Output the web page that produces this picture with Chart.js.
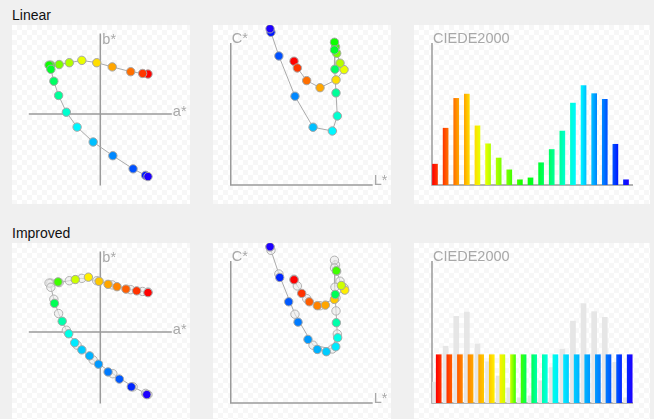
<!DOCTYPE html>
<html>
<head>
<meta charset="utf-8">
<script src="https://cdn.jsdelivr.net/npm/chart.js@4.4.1/dist/chart.umd.min.js"></script>
<style>
  html, body { margin: 0; padding: 0; background: #f0f0f0; width: 654px; height: 419px; overflow: hidden; }
  body { font-family: "Liberation Sans", Arial, sans-serif; }
  .title { position: absolute; left: 12px; font-size: 14px; line-height: 16px; color: #111; }
  .panel { position: absolute; height: 179px; background-color: #fff;
    background-image: conic-gradient(#f7f7f7 25%, #fff 0 50%, #f7f7f7 0 75%, #fff 0);
    background-size: 10px 10px; }
  .panel canvas { display: block; }
</style>
</head>
<body>
<div class="title" style="top:7px">Linear</div>
<div class="panel" style="left:12px;top:25px;width:178px"><canvas id="linAB" width="178" height="179"></canvas></div>
<div class="panel" style="left:213px;top:25px;width:178px"><canvas id="linLC" width="178" height="179"></canvas></div>
<div class="panel" style="left:414px;top:25px;width:236px"><canvas id="linDE" width="236" height="179"></canvas></div>

<div class="title" style="top:225px">Improved</div>
<div class="panel" style="left:12px;top:243px;width:178px"><canvas id="impAB" width="178" height="179"></canvas></div>
<div class="panel" style="left:213px;top:243px;width:178px"><canvas id="impLC" width="178" height="179"></canvas></div>
<div class="panel" style="left:414px;top:243px;width:236px"><canvas id="impDE" width="236" height="179"></canvas></div>

<script>
// Linear ramp: a*, b*, L*, C* per colour stop
const linA = [80, 71, 51, 20, -6, -31, -52, -69, -83, -86, -83, -78, -70, -57, -39, -12, 21, 55, 76, 80];
const linB = [67, 68, 71, 79, 86, 90, 86, 83, 82, 82, 75, 55, 31, 3, -22, -47, -70, -92, -103, -105];
const linL = [53.5, 56.3, 64.2, 75.5, 89, 95.8, 92.4, 89.6, 88.6, 87.7, 87.7, 88.1, 89, 90.1, 85.9, 69.6, 54.3, 40.7, 34, 33.2];
const linC = [104.6, 98.9, 88.2, 82.2, 88.8, 97.5, 102.9, 111.3, 116.7, 120.6, 114.1, 97.8, 77.8, 58.3, 45.6, 48.8, 75, 109, 129, 132];

// Improved ramp
const impA = [80, 61, 43, 28, 13, -2, -20, -42, -71, -77, -64, -53, -43, -31, -18, -3, 13, 32, 52, 78];
const impB = [66, 69, 72, 76, 80, 85, 92, 88, 84, 48, 18, -3, -18, -30, -40, -54, -67, -79, -92, -105];
const impL = [53.5, 60, 66.4, 73.2, 80, 87.6, 96.4, 93.5, 89.3, 88.4, 89.3, 90.4, 88.8, 80.8, 73.2, 65.3, 56.9, 49, 41.4, 33.2];
const impC = [104.1, 92.6, 85.5, 82.2, 82.7, 87.5, 95.4, 99.3, 111.7, 91.7, 67.8, 55.1, 47.5, 43.3, 45.2, 53.7, 68.3, 85.5, 106.1, 132];

// CIEDE2000 difference between neighbouring stops
const steps = [1, 2, 3, 4, 5, 6, 7, 8, 9, 10, 11, 12, 13, 14, 15, 16, 17, 18, 19];
const linDE = [4.4, 12.0, 18.3, 19.2, 12.5, 8.7, 5.7, 3.2, 1.1, 1.5, 4.7, 7.5, 11.4, 17.3, 21.0, 19.3, 18.1, 8.6, 1.1];
const impDE = [10.2, 10.2, 10.2, 10.2, 10.2, 10.2, 10.2, 10.2, 10.2, 10.2, 10.2, 10.2, 10.2, 10.2, 10.2, 10.2, 10.2, 10.2, 10.2];

// axis extents (data units)
const abAxis = {a: [-120, 120], b: [-120, 135]};
const lcAxis = {l: [0, 120], c: [0, 120]};

// hue of each stop (styling)
const linHue = [0, 13, 26, 39, 52, 65, 78, 91, 104, 117, 130, 143, 156, 169, 182, 195, 208, 221, 234, 247];
const impHue = [0, 12, 22, 31, 39, 47, 56, 72, 105, 140, 160, 174, 185, 192, 198, 204, 211, 219, 231, 247];

const hsl = h => `hsl(${h}, 100%, 50%)`;
const axisColor = '#9a9a9a';
const labelColor = '#a8a8a8';
const labelFont = '14.5px "Liberation Sans", Arial, sans-serif';

function pts(xs, ys) {
    return xs.map((v, i) => ({x: v, y: ys[i]}));
}

function baseOptions(pad, xs, ys) {
    return {
        responsive: false,
        animation: false,
        events: [],
        layout: {padding: pad, autoPadding: false},
        plugins: {legend: {display: false}, tooltip: {enabled: false}},
        scales: {
            x: Object.assign({type: 'linear', display: false, offset: false}, xs),
            y: Object.assign({type: 'linear', display: false}, ys)
        }
    };
}

// axes crossing at the origin (a*b* plane)
const crossAxes = {
    id: 'crossAxes',
    beforeDatasetsDraw(chart) {
        const {ctx, scales: {x, y}} = chart;
        const x0 = x.getPixelForValue(0), y0 = y.getPixelForValue(0);
        const xr = x.getPixelForValue(abAxis.a[1]);
        const yt = y.getPixelForValue(abAxis.b[1]);
        ctx.save();
        ctx.strokeStyle = axisColor;
        ctx.lineWidth = 1.5;
        ctx.beginPath();
        ctx.moveTo(x.getPixelForValue(abAxis.a[0]), y0); ctx.lineTo(xr, y0);
        ctx.moveTo(x0, yt); ctx.lineTo(x0, y.getPixelForValue(abAxis.b[0]));
        ctx.stroke();
        ctx.fillStyle = labelColor;
        ctx.font = labelFont;
        ctx.fillText('a*', xr + 1, y0 + 2);
        ctx.fillText('b*', x0 + 2, yt + 10);
        ctx.restore();
    }
};

// L-shaped axes for L*C*
const lcAxes = {
    id: 'lcAxes',
    beforeDatasetsDraw(chart) {
        const {ctx, scales: {x, y}} = chart;
        const left = x.getPixelForValue(lcAxis.l[0]), right = x.getPixelForValue(lcAxis.l[1]);
        const bottom = y.getPixelForValue(lcAxis.c[0]), top = y.getPixelForValue(lcAxis.c[1]);
        ctx.save();
        ctx.strokeStyle = axisColor;
        ctx.lineWidth = 1.5;
        ctx.beginPath();
        ctx.moveTo(left, top); ctx.lineTo(left, bottom); ctx.lineTo(right, bottom);
        ctx.stroke();
        ctx.fillStyle = labelColor;
        ctx.font = labelFont;
        ctx.fillText('C*', left + 1, top);
        ctx.fillText('L*', right + 1, bottom);
        ctx.restore();
    }
};

// L-shaped axes round the bar area
const deAxes = {
    id: 'deAxes',
    beforeDatasetsDraw(chart) {
        const {ctx, chartArea: a} = chart;
        ctx.save();
        ctx.strokeStyle = axisColor;
        ctx.lineWidth = 1.5;
        ctx.beginPath();
        ctx.moveTo(a.left, a.top); ctx.lineTo(a.left, a.bottom); ctx.lineTo(a.right, a.bottom);
        ctx.stroke();
        ctx.fillStyle = labelColor;
        ctx.font = labelFont;
        ctx.fillText('CIEDE2000', a.left + 1, a.top);
        ctx.restore();
    }
};

function barFill(hues, scaleId) {
    return c => {
        const i = c.dataIndex;
        const s = c.chart.scales[scaleId];
        if (i === undefined || !s) return hsl(hues[0]);
        const px = s.getPixelForValue(steps[i]);
        if (!isFinite(px)) return hsl(hues[i]);
        const g = c.chart.ctx.createLinearGradient(px - 2.5, 0, px + 2.5, 0);
        g.addColorStop(0, hsl(hues[i]));
        g.addColorStop(1, hsl(hues[i + 1]));
        return g;
    };
}

const colouredPath = (xs, ys, hues, line) => ({
    data: pts(xs, ys),
    showLine: line,
    borderColor: '#aaa',
    borderWidth: 1,
    tension: 0,
    pointRadius: 4.2,
    pointBorderWidth: 1,
    pointBorderColor: '#a5a5a5',
    pointBackgroundColor: hues.map(hsl),
    clip: false
});

const ghostPath = (xs, ys) => ({
    data: pts(xs, ys),
    showLine: true,
    borderColor: '#aaa',
    borderWidth: 1,
    tension: 0,
    pointRadius: 4.2,
    pointBorderWidth: 1,
    pointBorderColor: '#b0b0b0',
    pointBackgroundColor: 'rgba(235,235,235,0.6)',
    clip: false
});

const noPad = {left: 0, right: 0, top: 0, bottom: 0};
const dePad = {left: 18, right: 17, top: 18, bottom: 19};
// scale ranges chosen so the whole canvas is the plotting area
const abX = {min: -148.2, max: 150.5}, abY = {min: -151, max: 149.3};
const lcX = {min: -15, max: 135.5}, lcY = {min: -16.1, max: 135.2};

// ---- Linear row ----
new Chart(document.getElementById('linAB'), {
    type: 'scatter',
    data: {datasets: [colouredPath(linA, linB, linHue, true)]},
    options: baseOptions(noPad, abX, abY),
    plugins: [crossAxes]
});

new Chart(document.getElementById('linLC'), {
    type: 'scatter',
    data: {datasets: [colouredPath(linL, linC, linHue, true)]},
    options: baseOptions(noPad, lcX, lcY),
    plugins: [lcAxes]
});

new Chart(document.getElementById('linDE'), {
    type: 'bar',
    data: {datasets: [{
        data: pts(steps, linDE),
        barThickness: 5,
        backgroundColor: barFill(linHue, 'x'),
        borderWidth: 0
    }]},
    options: baseOptions(dePad, {min: 0.717, max: 19.66}, {min: 0, max: 30}),
    plugins: [deAxes]
});

// ---- Improved row ----
new Chart(document.getElementById('impAB'), {
    type: 'scatter',
    data: {datasets: [colouredPath(impA, impB, impHue, false), ghostPath(linA, linB)]},
    options: baseOptions(noPad, abX, abY),
    plugins: [crossAxes]
});

new Chart(document.getElementById('impLC'), {
    type: 'scatter',
    data: {datasets: [colouredPath(impL, impC, impHue, false), ghostPath(linL, linC)]},
    options: baseOptions(noPad, lcX, lcY),
    plugins: [lcAxes]
});

const impDEOptions = baseOptions(dePad, {min: 0.717, max: 19.66}, {min: 0, max: 30});
impDEOptions.scales.x2 = {type: 'linear', axis: 'x', display: false, offset: false, min: 0.368, max: 19.311};

new Chart(document.getElementById('impDE'), {
    type: 'bar',
    data: {datasets: [
        {
            data: pts(steps, impDE),
            xAxisID: 'x2',
            barThickness: 5,
            grouped: false,
            backgroundColor: barFill(impHue, 'x2'),
            borderWidth: 0
        },
        {
            data: pts(steps, linDE),
            xAxisID: 'x',
            barThickness: 5,
            grouped: false,
            backgroundColor: '#e6e6e6',
            borderWidth: 0
        }
    ]},
    options: impDEOptions,
    plugins: [deAxes]
});
</script>
</body>
</html>
